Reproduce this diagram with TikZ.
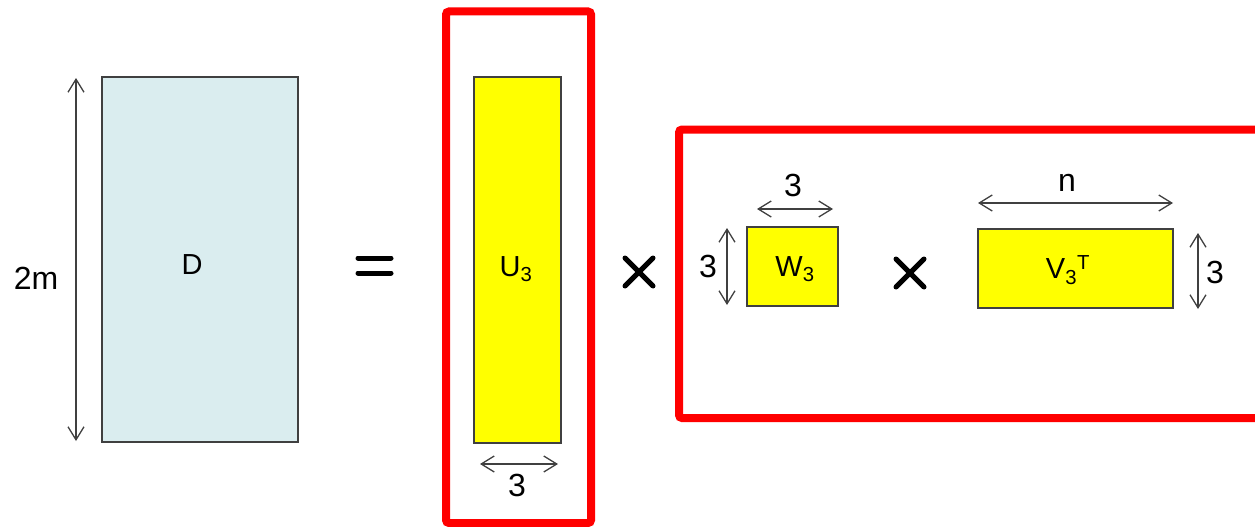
\documentclass[tikz,border=0pt]{standalone}
\usepackage{fontspec}
\setmainfont{Liberation Sans}
\usetikzlibrary{arrows.meta}
\definecolor{dblue}{HTML}{DAEDEF}
\definecolor{myyellow}{HTML}{FFFF00}
\definecolor{myred}{HTML}{FF0000}
\definecolor{edgegray}{HTML}{404040}
\begin{document}
\begin{tikzpicture}[x=1pt,y=-1pt,
  mat/.style={draw=edgegray,line width=1.2pt,inner sep=0pt,outer sep=0pt},
  lbl/.style={inner sep=0pt,font=\fontsize{29}{32}\selectfont},
  dim/.style={draw=edgegray,line width=1.3pt,{Straight Barb[length=13pt,width=16pt]}-{Straight Barb[length=13pt,width=16pt]}},
  dimlbl/.style={font=\fontsize{32}{36}\selectfont,inner sep=0pt},
  frame/.style={draw=myred,line width=8pt,rounded corners=3pt},
  op/.style={line width=5pt,line cap=round}]
\useasboundingbox (0,0) rectangle (1255,527);

% red frames
\draw[frame] (446,11.5) rectangle (591,523);
\draw[frame] (1255,129.5) -| (679,418) -- (1255,418);

% matrices
\node[mat,fill=dblue,minimum width=196pt,minimum height=365pt] (D) at (200,259.5) {};
\node[lbl] (Dt) at (192,265) {D};
\node[mat,fill=myyellow,minimum width=87pt,minimum height=366pt] (U) at (517.5,260) {};
\node[lbl] (Ut) at (516,269) {U\textsubscript{3}};
\node[mat,fill=myyellow,minimum width=91pt,minimum height=79pt] (W) at (792.5,266.5) {};
\node[lbl] (Wt) at (795,269) {W\textsubscript{3}};
\node[mat,fill=myyellow,minimum width=195pt,minimum height=79pt] (V) at (1075.5,268.5) {};
\node[lbl] (Vt) at (1068,270) {V\textsubscript{3}\textsuperscript{T}};

% dimension arrows
\coordinate (d1) at (76,78);
\coordinate (d2) at (76,441);
\draw[dim] (d1) -- (d2);
\node[dimlbl] (l2m) at (36,278) {2m};

\coordinate (u1) at (480,464);
\coordinate (u2) at (558,464);
\draw[dim] (u1) -- (u2);
\node[dimlbl] (lu) at (517,485) {3};

\coordinate (w1) at (727,228);
\coordinate (w2) at (727,305);
\draw[dim] (w1) -- (w2);
\node[dimlbl] (lwl) at (708,266) {3};

\coordinate (w3) at (757,209);
\coordinate (w4) at (833,209);
\draw[dim] (w3) -- (w4);
\node[dimlbl] (lwt) at (793,185) {3};

\coordinate (n1) at (978,203);
\coordinate (n2) at (1173,203);
\draw[dim] (n1) -- (n2);
\node[dimlbl] (ln) at (1067,183) {n};

\coordinate (v1) at (1198,233);
\coordinate (v2) at (1198,309);
\draw[dim] (v1) -- (v2);
\node[dimlbl] (lv) at (1215,272) {3};

% operators
\coordinate (e1) at (358,258);
\coordinate (e2) at (391,258);
\coordinate (e3) at (358,273);
\coordinate (e4) at (391,273);
\draw[op] (e1) -- (e2);
\draw[op] (e3) -- (e4);

\coordinate (t1) at (625,258);
\coordinate (t2) at (653,286);
\coordinate (t3) at (625,286);
\coordinate (t4) at (653,258);
\draw[op] (t1) -- (t2);
\draw[op] (t3) -- (t4);

\coordinate (s1) at (896,259);
\coordinate (s2) at (924,287);
\coordinate (s3) at (896,287);
\coordinate (s4) at (924,259);
\draw[op] (s1) -- (s2);
\draw[op] (s3) -- (s4);
\end{tikzpicture}
\end{document}
